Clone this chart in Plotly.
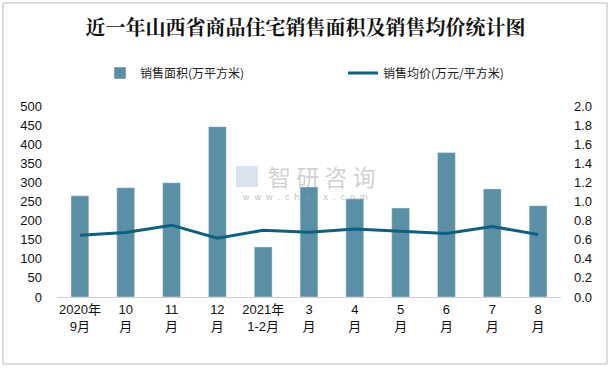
import plotly.graph_objects as go

categories = ["2020年<br>9月", "10<br>月", "11<br>月", "12<br>月", "2021年<br>1-2月", "3<br>月",
              "4<br>月", "5<br>月", "6<br>月", "7<br>月", "8<br>月"]
area = [265, 286, 299, 446, 131, 288, 257, 233, 378, 283, 239]
price = [0.647, 0.675, 0.752, 0.615, 0.699, 0.678, 0.713, 0.689, 0.664, 0.738, 0.654]
left_ticks = [0, 50, 100, 150, 200, 250, 300, 350, 400, 450, 500]
right_ticks = [0.0, 0.2, 0.4, 0.6, 0.8, 1.0, 1.2, 1.4, 1.6, 1.8, 2.0]

W, H = 611, 368
L, R, T, B = 57, 50, 106, 71
pw, ph = W - L - R, H - T - B

cjk = "Noto Sans CJK SC"
num = "Liberation Sans, " + cjk

def px_x(p):
    return (p - L) / pw

def px_y(p):
    return (H - B - p) / ph

fig = go.Figure()
fig.add_trace(go.Bar(x=list(range(len(categories))), y=area, name="销售面积(万平方米)",
                     marker=dict(color="#5b8fa6"), width=0.39, yaxis="y", legend="legend"))
fig.add_trace(go.Scatter(x=list(range(len(categories))), y=price, name="销售均价(万元/平方米)",
                         mode="lines", line=dict(color="#0f5f7f", width=3), yaxis="y2",
                         legend="legend2"))

legend_common = dict(orientation="h", yanchor="middle", xanchor="left",
                     font=dict(family=cjk, size=12, color="#222"), itemwidth=30,
                     bgcolor="rgba(0,0,0,0)", borderwidth=0)

fig.update_layout(
    width=W, height=H,
    margin=dict(l=L, r=R, t=T, b=B, autoexpand=False),
    paper_bgcolor="white", plot_bgcolor="white",
    showlegend=True,
    legend=dict(x=px_x(100), y=px_y(73), **legend_common),
    legend2=dict(x=px_x(343), y=px_y(73), **legend_common),
    title=dict(text="<b>近一年山西省商品住宅销售面积及销售均价统计图</b>", x=0.5, xanchor="center",
               y=1 - 28 / H, yanchor="middle",
               font=dict(family="Noto Serif CJK SC, " + cjk, size=20, color="#111")),
    xaxis=dict(tickmode="array", tickvals=list(range(len(categories))), ticktext=categories,
               range=[-0.5, len(categories) - 0.5], showgrid=False, showline=True,
               linecolor="#d0d0d0", linewidth=1, ticks="", zeroline=False, automargin=False,
               tickfont=dict(family=num, size=13, color="#111")),
    yaxis=dict(range=[0, 500], tickvals=left_ticks, showgrid=False, zeroline=False,
               ticks="", showline=False, ticklabelstandoff=14, automargin=False,
               tickfont=dict(family=num, size=13, color="#111")),
    yaxis2=dict(range=[0, 2.0], tickvals=right_ticks, ticktext=[f"{v:.1f}" for v in right_ticks],
                overlaying="y", side="right", showgrid=False, zeroline=False, ticks="",
                showline=False, ticklabelstandoff=12, automargin=False,
                tickfont=dict(family=num, size=13, color="#111")),
)

# watermark
fig.add_annotation(xref="paper", yref="paper", x=px_x(321), y=px_y(176), text="智 研 咨 询",
                   showarrow=False, font=dict(family=cjk, size=23, color="rgba(150,150,150,0.45)"))
fig.add_annotation(xref="paper", yref="paper", x=px_x(305), y=px_y(197), text="w  w  w  .  c  h  y  x  x  .  c  o  m",
                   showarrow=False, font=dict(family=num, size=9, color="rgba(150,150,150,0.6)"))
fig.add_shape(type="rect", xref="paper", yref="paper", x0=px_x(236), x1=px_x(258),
              y0=px_y(187), y1=px_y(166), line=dict(width=0), fillcolor="rgba(170,195,220,0.45)")

# outer border
fig.add_shape(type="rect", xref="paper", yref="paper", x0=px_x(3), x1=px_x(607),
              y0=px_y(364), y1=px_y(3), line=dict(color="#bbbbbb", width=1), fillcolor="rgba(0,0,0,0)",
              layer="below")

fig.write_html("out.html", config={"displayModeBar": False},
               post_script="document.body.style.margin='0';document.body.style.overflow='hidden';")
